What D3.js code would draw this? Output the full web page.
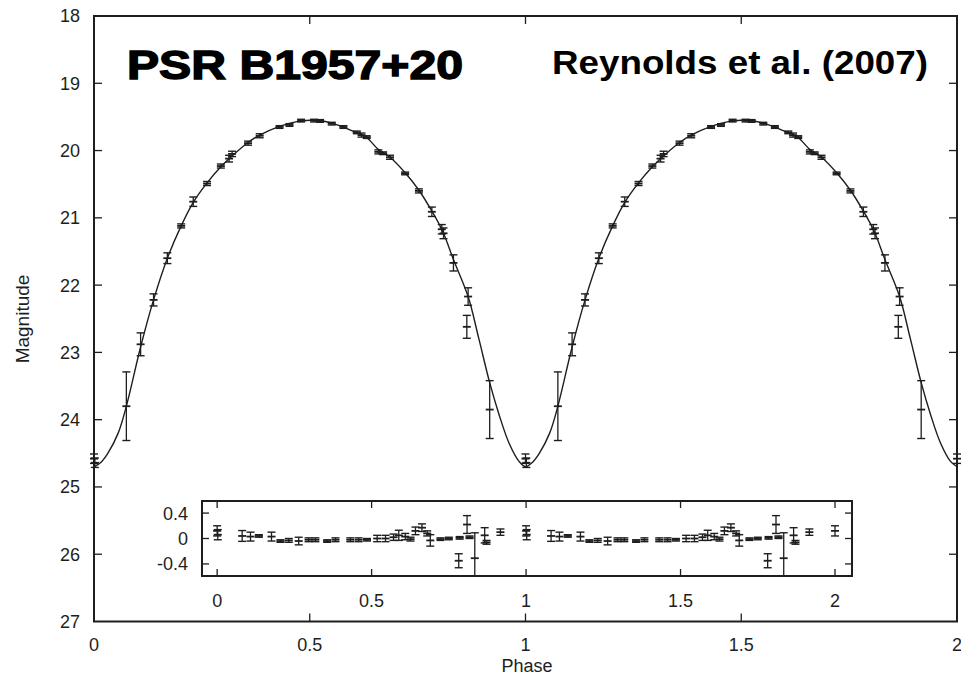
<!DOCTYPE html>
<html>
<head>
<meta charset="utf-8">
<script src="https://cdn.jsdelivr.net/npm/d3@7"></script>
<style>
  html, body { margin: 0; padding: 0; background: #fff; }
  svg { display: block; }
</style>
</head>
<body>
<svg id="chart" width="961" height="685"></svg>
<script>
// ---------------- data (one orbital cycle, repeated at +1 and +2) ----------------
const obsPhase = [0.000, 0.002, 0.075, 0.108, 0.138, 0.170, 0.202, 0.230, 0.262, 0.294, 0.313, 0.320,
  0.357, 0.384, 0.430, 0.453, 0.480, 0.510, 0.524, 0.551, 0.578, 0.609, 0.620, 0.632,
  0.659, 0.670, 0.686, 0.721, 0.753, 0.783, 0.806, 0.810, 0.833, 0.867, 0.864, 0.917];
const obsMag = [24.58, 24.64, 23.80, 22.88, 22.22, 21.60, 21.12, 20.76, 20.49, 20.23, 20.12, 20.05,
  19.89, 19.78, 19.65, 19.62, 19.555, 19.555, 19.56, 19.60, 19.65, 19.73, 19.77, 19.80,
  20.02, 20.04, 20.10, 20.34, 20.60, 20.91, 21.17, 21.23, 21.67, 22.17, 22.62, 23.85];
const obsErr = [0.07, 0.07, 0.51, 0.17, 0.09, 0.08, 0.03, 0.07, 0.03, 0.03, 0.05, 0.04,
  0.03, 0.03, 0.02, 0.02, 0.02, 0.02, 0.02, 0.02, 0.02, 0.02, 0.03, 0.02,
  0.03, 0.02, 0.03, 0.02, 0.03, 0.07, 0.07, 0.08, 0.12, 0.13, 0.17, 0.43];

const modelPhase = [0.000, 0.015, 0.032, 0.056, 0.075, 0.108, 0.138, 0.170, 0.202, 0.230, 0.262, 0.294,
  0.320, 0.357, 0.384, 0.430, 0.470, 0.500, 0.530, 0.560, 0.600, 0.632, 0.660, 0.686,
  0.721, 0.753, 0.783, 0.808, 0.833, 0.867, 0.892, 0.917, 0.939, 0.962, 0.985];
const modelMag = [24.70, 24.64, 24.50, 24.20, 23.80, 22.92, 22.22, 21.60, 21.12, 20.77, 20.48, 20.24,
  20.08, 19.88, 19.77, 19.64, 19.57, 19.55, 19.56, 19.61, 19.71, 19.81, 19.99, 20.10,
  20.33, 20.59, 20.90, 21.20, 21.62, 22.17, 22.80, 23.45, 23.93, 24.35, 24.62];

const resPhase = [0.000, 0.002, 0.081, 0.108, 0.135, 0.176, 0.205, 0.232, 0.264, 0.296, 0.318, 0.356,
  0.383, 0.431, 0.458, 0.485, 0.518, 0.545, 0.571, 0.588, 0.609, 0.626, 0.642, 0.663,
  0.680, 0.690, 0.723, 0.750, 0.782, 0.785, 0.809, 0.817, 0.834, 0.866, 0.872, 0.917];
const resVal = [0.12, 0.06, 0.04, 0.03, 0.04, 0.03, -0.04, -0.03, -0.04, -0.02, -0.02, -0.04,
  -0.02, -0.02, -0.02, -0.02, 0.00, 0.00, 0.02, 0.05, 0.03, -0.01, 0.12, 0.17,
  0.08, -0.03, -0.01, 0.00, -0.35, 0.01, 0.22, 0.02, -0.31, 0.05, -0.06, 0.10];
const resErr = [0.08, 0.08, 0.085, 0.07, 0.02, 0.07, 0.02, 0.03, 0.06, 0.03, 0.03, 0.02,
  0.03, 0.03, 0.03, 0.02, 0.05, 0.05, 0.05, 0.08, 0.05, 0.03, 0.06, 0.06,
  0.04, 0.09, 0.02, 0.02, 0.11, 0.02, 0.14, 0.02, 0.40, 0.12, 0.03, 0.05];

const xTicks = [0, 0.5, 1, 1.5, 2];
const yTicks = [18, 19, 20, 21, 22, 23, 24, 25, 26, 27];
const insetYTicks = [0.4, 0, -0.4];
const cycles = [0, 1, 2];

// ---------------- layout ----------------
const svg = d3.select("#chart");
const ink = "#1e1e1e";
const font = "'Liberation Sans', Arial, Helvetica, sans-serif";

const M = { left: 94, right: 957, top: 16, bottom: 621.5 };
const x = d3.scaleLinear().domain([0, 2]).range([M.left, M.right]);
const y = d3.scaleLinear().domain([18, 27]).range([M.top, M.bottom]);

// replicate one cycle over the phase range
function repeat(ph, ...cols) {
  const out = [];
  cycles.forEach(k => ph.forEach((p, i) => {
    const P = p + k;
    if (P <= 2.0001) out.push([P, ...cols.map(c => c[i])]);
  }));
  return out;
}

// ---- main frame & ticks ----
const gMain = svg.append("g");
gMain.append("rect").attr("x", M.left).attr("y", M.top)
  .attr("width", M.right - M.left).attr("height", M.bottom - M.top)
  .attr("fill", "none").attr("stroke", ink).attr("stroke-width", 2);

const TL = 8;
xTicks.filter(t => t > 0 && t < 2).forEach(t => {
  gMain.append("line").attr("x1", x(t)).attr("x2", x(t)).attr("y1", M.bottom).attr("y2", M.bottom - TL)
    .attr("stroke", ink).attr("stroke-width", 1.3);
  gMain.append("line").attr("x1", x(t)).attr("x2", x(t)).attr("y1", M.top).attr("y2", M.top + TL)
    .attr("stroke", ink).attr("stroke-width", 1.3);
});
yTicks.filter(t => t > 18 && t < 27).forEach(t => {
  gMain.append("line").attr("x1", M.left).attr("x2", M.left + TL).attr("y1", y(t)).attr("y2", y(t))
    .attr("stroke", ink).attr("stroke-width", 1.3);
  gMain.append("line").attr("x1", M.right).attr("x2", M.right - TL).attr("y1", y(t)).attr("y2", y(t))
    .attr("stroke", ink).attr("stroke-width", 1.3);
});
xTicks.forEach(t => {
  svg.append("text").attr("x", x(t)).attr("y", 651).attr("text-anchor", "middle")
    .attr("font-family", font).attr("font-size", 18).attr("fill", ink)
    .text(d3.format("")(t));
});
yTicks.forEach(t => {
  svg.append("text").attr("x", 80).attr("y", y(t)).attr("dy", "0.36em").attr("text-anchor", "end")
    .attr("font-family", font).attr("font-size", 18).attr("fill", ink).text(t);
});
svg.append("text").attr("x", 527).attr("y", 672).attr("text-anchor", "middle")
  .attr("font-family", font).attr("font-size", 18).attr("fill", ink).text("Phase");
svg.append("text").attr("transform", "translate(29,319) rotate(-90)").attr("text-anchor", "middle")
  .attr("font-family", font).attr("font-size", 19).attr("fill", ink).text("Magnitude");

// ---- model curve ----
const modelPts = repeat(modelPhase, modelMag);
modelPts.sort((a, b) => a[0] - b[0]);
svg.append("defs").append("clipPath").attr("id", "mainClip").append("rect")
  .attr("x", M.left).attr("y", M.top).attr("width", M.right - M.left).attr("height", M.bottom - M.top);
svg.append("path").datum(modelPts)
  .attr("clip-path", "url(#mainClip)")
  .attr("d", d3.line().x(d => x(d[0])).y(d => y(d[1])).curve(d3.curveCatmullRom.alpha(0.5)))
  .attr("fill", "none").attr("stroke", ink).attr("stroke-width", 1.4);

// ---- error bars ----
function errorBars(g, pts, sx, sy, cap) {
  pts.forEach(([p, v, e]) => {
    const cx = sx(p), y0 = sy(v - e), y1 = sy(v + e), yc = sy(v);
    g.append("line").attr("x1", cx).attr("x2", cx).attr("y1", y0).attr("y2", y1)
      .attr("stroke", ink).attr("stroke-width", 1.3);
    [y0, y1].forEach(yy => g.append("line").attr("x1", cx - cap).attr("x2", cx + cap)
      .attr("y1", yy).attr("y2", yy).attr("stroke", ink).attr("stroke-width", 1.4));
    g.append("line").attr("x1", cx - cap).attr("x2", cx + cap).attr("y1", yc).attr("y2", yc)
      .attr("stroke", ink).attr("stroke-width", 1.8);
  });
}
errorBars(svg.append("g"), repeat(obsPhase, obsMag, obsErr), x, y, 4);

// ---- inset ----
const I = { left: 202, right: 852, top: 501, bottom: 576 };
const ix = d3.scaleLinear().domain([-0.049, 2.055]).range([I.left, I.right]);
const iy = d3.scaleLinear().domain([-0.59, 0.59]).range([I.bottom, I.top]);
svg.select("defs").append("clipPath").attr("id", "insetClip").append("rect")
  .attr("x", I.left).attr("y", I.top).attr("width", I.right - I.left).attr("height", I.bottom - I.top);
svg.append("rect").attr("x", I.left).attr("y", I.top).attr("width", I.right - I.left)
  .attr("height", I.bottom - I.top).attr("fill", "#fff");
const gIn = svg.append("g").attr("clip-path", "url(#insetClip)");
errorBars(gIn, repeat(resPhase, resVal, resErr), ix, iy, 4);

const ITL = 7;
xTicks.forEach(t => {
  svg.append("line").attr("x1", ix(t)).attr("x2", ix(t)).attr("y1", I.bottom).attr("y2", I.bottom - ITL)
    .attr("stroke", ink).attr("stroke-width", 1.3);
  svg.append("line").attr("x1", ix(t)).attr("x2", ix(t)).attr("y1", I.top).attr("y2", I.top + ITL)
    .attr("stroke", ink).attr("stroke-width", 1.3);
  svg.append("text").attr("x", ix(t)).attr("y", 607).attr("text-anchor", "middle")
    .attr("font-family", font).attr("font-size", 18).attr("fill", ink).text(t);
});
insetYTicks.forEach(t => {
  svg.append("line").attr("x1", I.left).attr("x2", I.left + ITL).attr("y1", iy(t)).attr("y2", iy(t))
    .attr("stroke", ink).attr("stroke-width", 1.3);
  svg.append("line").attr("x1", I.right).attr("x2", I.right - ITL).attr("y1", iy(t)).attr("y2", iy(t))
    .attr("stroke", ink).attr("stroke-width", 1.3);
  svg.append("text").attr("x", 188).attr("y", iy(t)).attr("dy", "0.36em").attr("text-anchor", "end")
    .attr("font-family", font).attr("font-size", 18).attr("fill", ink).text(t);
});
svg.append("rect").attr("x", I.left).attr("y", I.top).attr("width", I.right - I.left)
  .attr("height", I.bottom - I.top).attr("fill", "none").attr("stroke", ink).attr("stroke-width", 2);

// ---- titles ----
svg.append("text").attr("x", 127).attr("y", 79)
  .attr("font-family", "'Liberation Sans', Arial, sans-serif").attr("font-weight", 900)
  .attr("font-size", 40).attr("fill", "#000")
  .attr("textLength", 336).attr("lengthAdjust", "spacingAndGlyphs")
  .style("stroke", "#000").style("stroke-width", 1.4)
  .text("PSR B1957+20");
svg.append("text").attr("x", 552).attr("y", 74)
  .attr("font-family", "'Liberation Sans', Arial, sans-serif").attr("font-weight", 700)
  .attr("font-size", 33).attr("fill", "#000")
  .attr("textLength", 376).attr("lengthAdjust", "spacingAndGlyphs")
  .text("Reynolds et al. (2007)");
</script>
</body>
</html>
